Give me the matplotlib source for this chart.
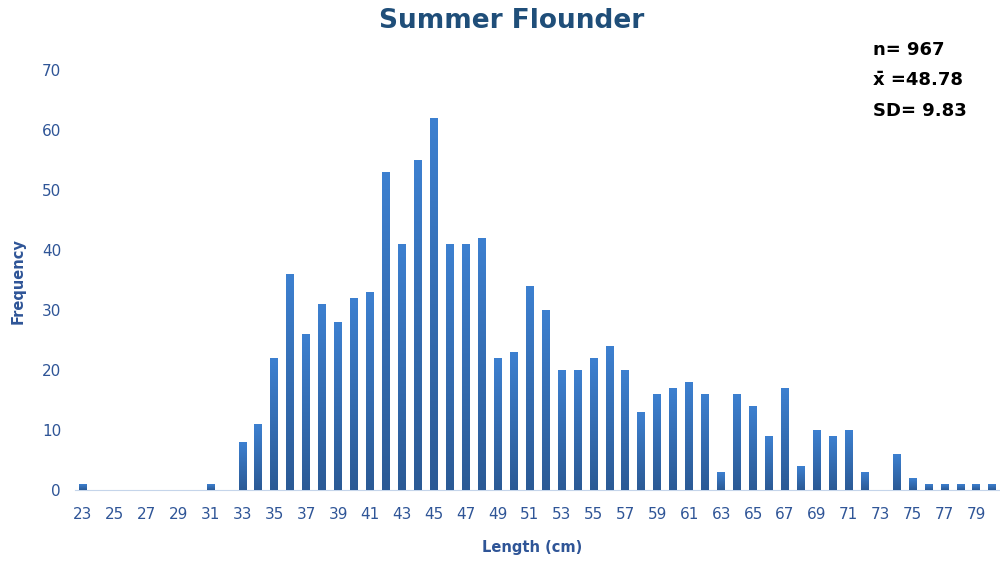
# Summer Flounder length-frequency histogram
import numpy as np
import matplotlib.pyplot as plt

lengths = list(range(23, 81))
counts = [1, 0, 0, 0, 0, 0, 0, 0, 1, 0,
          8, 11, 22, 36, 26, 31, 28, 32, 33, 53,
          41, 55, 62, 41, 41, 42, 22, 23, 34, 30,
          20, 20, 22, 24, 20, 13, 16, 17, 18, 16,
          3, 16, 14, 9, 17, 4, 10, 9, 10, 3,
          0, 6, 2, 1, 1, 1, 1, 1]
stats = ['n= 967', 'x\u0304 =48.78', 'SD= 9.83']

blue_txt = '#2f5597'
fig = plt.figure(figsize=(10, 5.62), dpi=100)
ax = fig.add_axes([0.075, 0.128, 0.927, 0.747])

x = np.arange(len(lengths))
bars = ax.bar(x, counts, width=0.5, color='#3468ad', zorder=2)

# vertical gradient on bars (lighter top, darker bottom)
grad = np.linspace(0, 1, 256).reshape(-1, 1)
from matplotlib.colors import LinearSegmentedColormap
cmap = LinearSegmentedColormap.from_list('b', ['#2b5a95', '#3d80d0'])
for b in bars:
    if b.get_height() == 0:
        continue
    bx, by = b.get_x(), b.get_y()
    w, h = b.get_width(), b.get_height()
    im = ax.imshow(grad, extent=[bx, bx + w, by, by + h], origin='lower',
                   cmap=cmap, aspect='auto', zorder=3)
    im.set_clip_path(b)

ax.set_xlim(-0.5, 57.6)
ax.set_ylim(0, 70)
ax.set_xticks(x[::2])
ax.set_xticklabels([str(v) for v in lengths[::2]])
ax.set_yticks(range(0, 71, 10))
ax.tick_params(axis='both', length=0, labelsize=11, labelcolor=blue_txt)
ax.tick_params(axis='x', pad=12)
ax.tick_params(axis='y', pad=10)
for s in ['top', 'right', 'left']:
    ax.spines[s].set_visible(False)
ax.spines['bottom'].set_color('#c5d5ea')

fig.text(0.512, 0.962, 'Summer Flounder', ha='center', va='center',
         fontsize=19, fontweight='bold', color='#1f4e79')
fig.text(0.532, 0.025, 'Length (cm)', ha='center', va='center',
         fontsize=10.5, fontweight='bold', color=blue_txt)
fig.text(0.018, 0.5, 'Frequency', ha='center', va='center', rotation=90,
         fontsize=10.5, fontweight='bold', color=blue_txt)

for i, s in enumerate(stats):
    fig.text(0.873, 0.911 - i * 0.054, s, ha='left', va='center',
             fontsize=13, fontweight='bold', color='black')

fig.savefig('out.png', dpi=100)
